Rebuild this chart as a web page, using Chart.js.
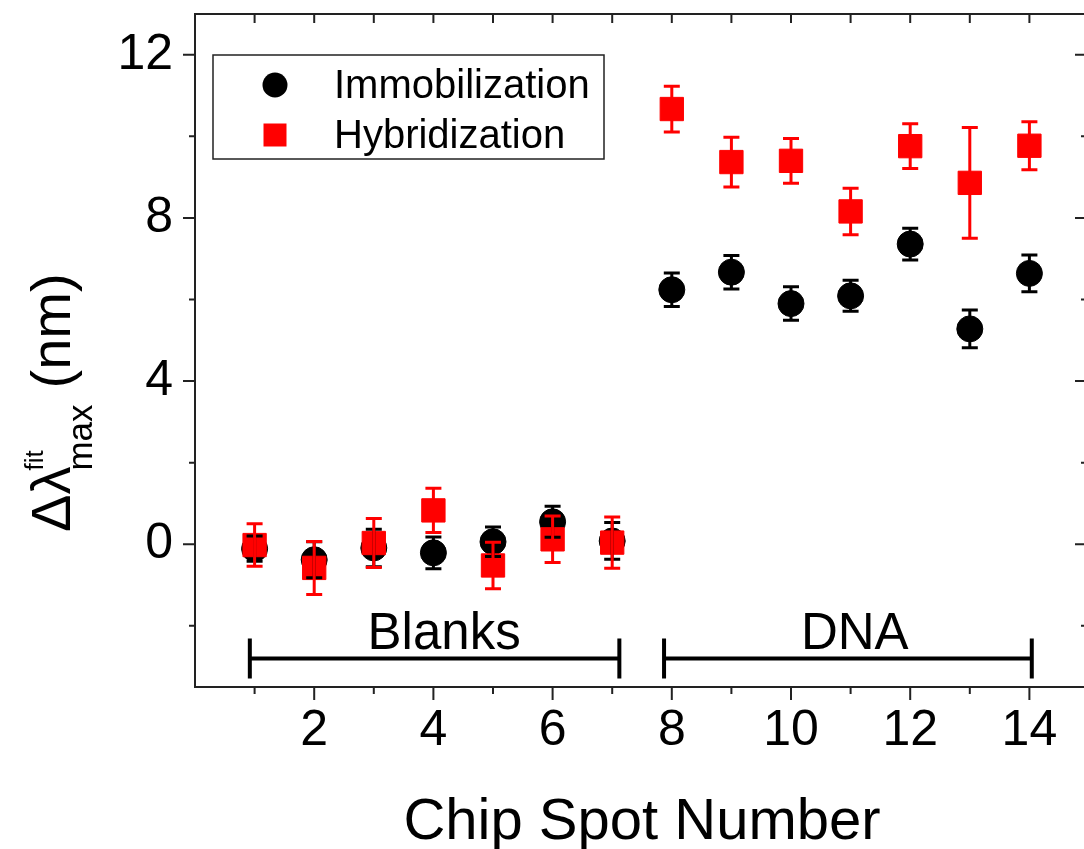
<!DOCTYPE html>
<html>
<head>
<meta charset="utf-8">
<script src="https://cdn.jsdelivr.net/npm/chart.js@4.4.0/dist/chart.umd.min.js"></script>
<style>
  html, body { margin: 0; padding: 0; background: #fff; overflow: hidden; }
  #chart { display: block; }
</style>
</head>
<body>
<canvas id="chart" width="1090" height="849"></canvas>
<script>
/* ── data ───────────────────────────────────────────────── */
const spots       = [1, 2, 3, 4, 5, 6, 7, 8, 9, 10, 11, 12, 13, 14];
const seriesNames = ['Immobilization', 'Hybridization'];

const immob     = [-0.11, -0.38, -0.09, -0.21, 0.06, 0.55, 0.08, 6.24, 6.67, 5.90, 6.09, 7.36, 5.28, 6.64];
const immobErr  = [0.31, 0.44, 0.46, 0.39, 0.36, 0.38, 0.45, 0.41, 0.41, 0.41, 0.38, 0.39, 0.46, 0.45];
const hybrid    = [-0.02, -0.58, 0.03, 0.83, -0.52, 0.12, 0.04, 10.67, 9.37, 9.40, 8.16, 9.76, 8.86, 9.77];
const hybridErr = [0.52, 0.65, 0.60, 0.54, 0.57, 0.57, 0.63, 0.56, 0.61, 0.55, 0.57, 0.55, 1.36, 0.59];

const xTickLabels = [2, 4, 6, 8, 10, 12, 14];
const xMinorTicks = [1, 3, 5, 7, 9, 11, 13];
const yTickLabels = [0, 4, 8, 12];
const yMinorTicks = [-2, 2, 6, 10];

const groupNames  = ['Blanks', 'DNA'];
const groupStart  = [0.92, 7.87];
const groupEnd    = [7.12, 14.04];
const groupLabelX = [4.18, 11.07];
const groupLineY  = -2.8;
const groupLabelY = -2.57;

const xTitle = 'Chip Spot Number';

const FONT = '"Liberation Sans", Arial, sans-serif';
const BLACK = '#000000';
const RED   = '#ff0000';

/* ── error bars ─────────────────────────────────────────── */
const errorBars = {
  id: 'errorBars',
  afterDatasetsDraw(chart) {
    const { ctx, scales: { x, y } } = chart;
    chart.data.datasets.forEach(ds => {
      ctx.save();
      ctx.strokeStyle = ds.borderColor;
      ctx.lineWidth = 3;
      ds.data.forEach((p, i) => {
        const e  = ds.errors[i];
        const px = x.getPixelForValue(p.x);
        const y1 = y.getPixelForValue(p.y + e);
        const y2 = y.getPixelForValue(p.y - e);
        ctx.beginPath();
        ctx.moveTo(px, y1); ctx.lineTo(px, y2);
        ctx.moveTo(px - 8, y1); ctx.lineTo(px + 8, y1);
        ctx.moveTo(px - 8, y2); ctx.lineTo(px + 8, y2);
        ctx.stroke();
      });
      ctx.restore();
    });
  }
};

/* ── frame, ticks, titles, brackets, legend ─────────────── */
const decorations = {
  id: 'decorations',
  afterDraw(chart) {
    const { ctx, chartArea: a, scales: { x, y } } = chart;
    ctx.save();

    // frame
    ctx.strokeStyle = '#222';
    ctx.lineWidth = 2;
    ctx.strokeRect(a.left, a.top, a.right - a.left, a.bottom - a.top);

    // ticks
    ctx.beginPath();
    xTickLabels.forEach(v => {
      const px = x.getPixelForValue(v);
      ctx.moveTo(px, a.bottom); ctx.lineTo(px, a.bottom + 13);
      ctx.moveTo(px, a.top);    ctx.lineTo(px, a.top + 9);
    });
    xMinorTicks.forEach(v => {
      const px = x.getPixelForValue(v);
      ctx.moveTo(px, a.bottom); ctx.lineTo(px, a.bottom + 7);
      ctx.moveTo(px, a.top);    ctx.lineTo(px, a.top + 9);
    });
    yTickLabels.forEach(v => {
      const py = y.getPixelForValue(v);
      ctx.moveTo(a.left, py);  ctx.lineTo(a.left - 12, py);
      ctx.moveTo(a.right, py); ctx.lineTo(a.right - 14, py);
    });
    yMinorTicks.forEach(v => {
      const py = y.getPixelForValue(v);
      ctx.moveTo(a.left, py);  ctx.lineTo(a.left - 6, py);
      ctx.moveTo(a.right, py); ctx.lineTo(a.right - 8, py);
    });
    ctx.stroke();

    // group brackets
    ctx.strokeStyle = BLACK;
    ctx.fillStyle = BLACK;
    ctx.lineWidth = 4;
    const ly = y.getPixelForValue(groupLineY);
    groupNames.forEach((name, i) => {
      const x1 = x.getPixelForValue(groupStart[i]);
      const x2 = x.getPixelForValue(groupEnd[i]);
      ctx.beginPath();
      ctx.moveTo(x1, ly); ctx.lineTo(x2, ly);
      ctx.moveTo(x1, ly - 20); ctx.lineTo(x1, ly + 20);
      ctx.moveTo(x2, ly - 20); ctx.lineTo(x2, ly + 20);
      ctx.stroke();
      ctx.font = `51px ${FONT}`;
      ctx.textAlign = 'center';
      ctx.textBaseline = 'alphabetic';
      ctx.fillText(name, x.getPixelForValue(groupLabelX[i]), y.getPixelForValue(groupLabelY));
    });

    // legend
    ctx.strokeStyle = '#222';
    ctx.lineWidth = 1.5;
    ctx.strokeRect(213, 55, 391, 104);
    const rows = [85, 135];
    chart.data.datasets.forEach((ds, i) => {
      const cy = rows[i];
      ctx.fillStyle = ds.backgroundColor;
      ctx.beginPath();
      if (ds.pointStyle === 'circle') ctx.arc(275, cy, 12.5, 0, Math.PI * 2);
      else ctx.rect(275 - 11.5, cy - 11.5, 23, 23);
      ctx.fill();
      ctx.fillStyle = BLACK;
      ctx.font = `40px ${FONT}`;
      ctx.textAlign = 'left';
      ctx.textBaseline = 'alphabetic';
      ctx.fillText(ds.label, 334, cy + 13);
    });

    // x title
    ctx.fillStyle = BLACK;
    ctx.font = `58px ${FONT}`;
    ctx.textAlign = 'center';
    ctx.fillText(xTitle, 642, 839);

    // y title: Δλ with sub "max" and sup "fit", then (nm)
    ctx.translate(70, 532);
    ctx.rotate(-Math.PI / 2);
    ctx.textAlign = 'left';
    ctx.font = `56px ${FONT}`;
    ctx.fillText('Δλ', 0, 0);
    const w = ctx.measureText('Δλ').width;
    ctx.font = `26px ${FONT}`;
    ctx.fillText('fit', w - 4, -27);
    ctx.font = `35px ${FONT}`;
    ctx.fillText('max', w - 4, 22);
    const w2 = ctx.measureText('max').width;
    ctx.font = `56px ${FONT}`;
    ctx.fillText('(nm)', w - 4 + w2 + 16, 0);

    ctx.restore();
  }
};

/* ── chart ──────────────────────────────────────────────── */
const toPoints = vals => spots.map((s, i) => ({ x: s, y: vals[i] }));

new Chart(document.getElementById('chart'), {
  type: 'scatter',
  data: {
    datasets: [
      {
        label: seriesNames[0],
        data: toPoints(immob),
        errors: immobErr,
        pointStyle: 'circle',
        pointRadius: 13,
        pointHoverRadius: 13,
        borderWidth: 1,
        backgroundColor: BLACK,
        borderColor: BLACK,
        order: 2,
      },
      {
        label: seriesNames[1],
        data: toPoints(hybrid),
        errors: hybridErr,
        pointStyle: 'rect',
        pointRadius: 16.5,
        pointHoverRadius: 16.5,
        borderWidth: 1,
        backgroundColor: RED,
        borderColor: RED,
        order: 1,
      },
    ],
  },
  options: {
    responsive: false,
    animation: false,
    devicePixelRatio: 1,
    layout: { autoPadding: false, padding: { top: 14, right: 1, left: 0, bottom: 0 } },
    plugins: { legend: { display: false }, tooltip: { enabled: false } },
    scales: {
      x: {
        type: 'linear',
        min: 0,
        max: 15,
        afterFit: s => { s.height = 162; s.paddingLeft = 0; s.paddingRight = 0; },
        afterBuildTicks: s => { s.ticks = xTickLabels.map(v => ({ value: v })); },
        grid: { display: false, drawTicks: false },
        border: { display: false },
        ticks: { padding: 14, color: BLACK, autoSkip: false, maxRotation: 0, font: { size: 50, family: FONT } },
      },
      y: {
        type: 'linear',
        min: -3.5,
        max: 13,
        afterFit: s => { s.width = 195; s.paddingTop = 0; s.paddingBottom = 0; },
        afterBuildTicks: s => { s.ticks = yTickLabels.map(v => ({ value: v })); },
        grid: { display: false, drawTicks: false },
        border: { display: false },
        ticks: { padding: 22, color: BLACK, autoSkip: false, font: { size: 50, family: FONT } },
      },
    },
  },
  plugins: [errorBars, decorations],
});
</script>
</body>
</html>
